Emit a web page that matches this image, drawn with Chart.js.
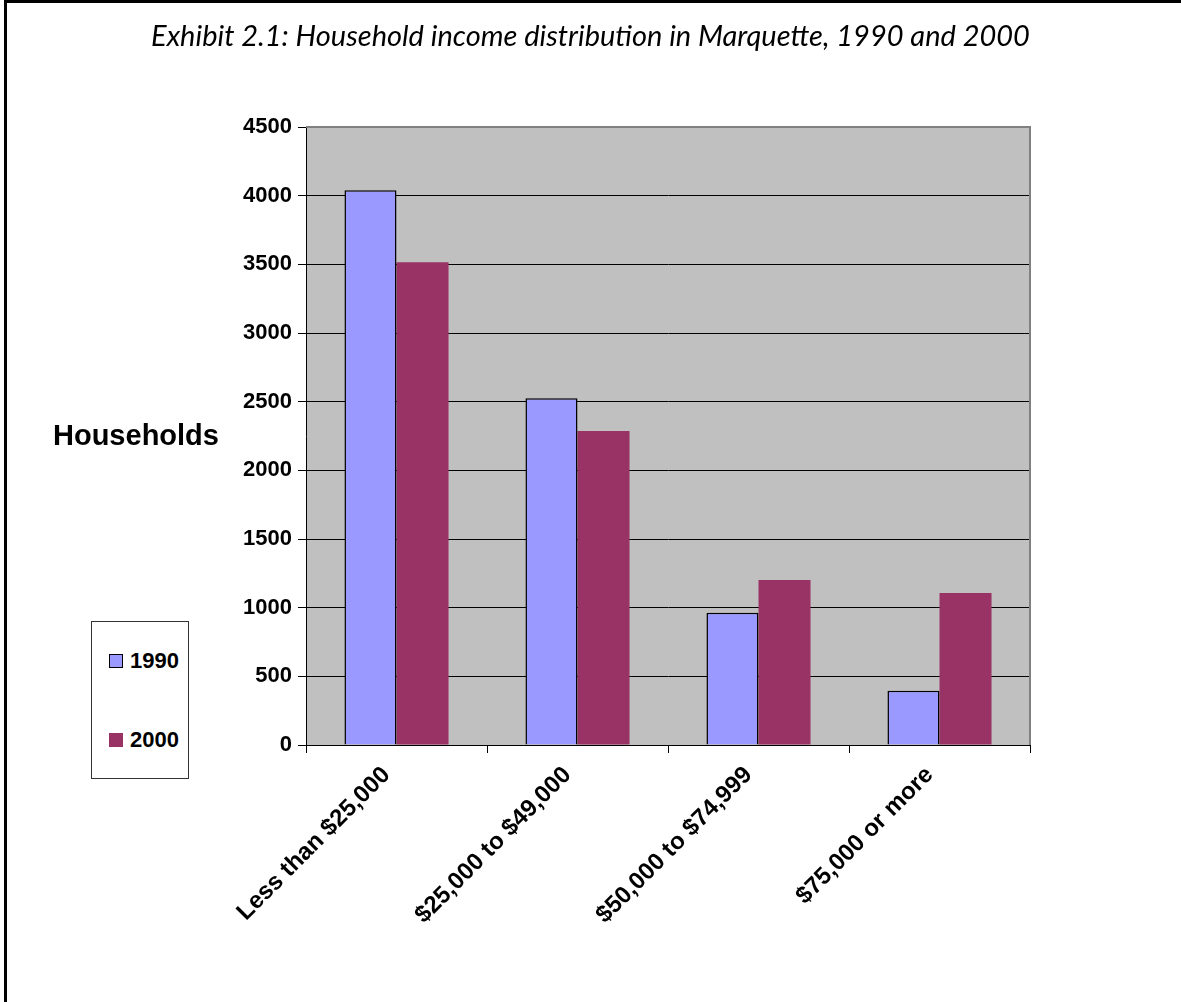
<!DOCTYPE html>
<html>
<head>
<meta charset="utf-8">
<script src="https://cdn.jsdelivr.net/npm/chart.js@4"></script>
<style>
  body { margin: 0; background: #fff; }
  #wrap { position: relative; width: 1181px; height: 1002px; overflow: hidden; }
  #frame { position: absolute; left: 4px; top: 0; width: 1200px; height: 1100px;
    border-left: 3px solid #000; border-top: 3px solid #000; box-sizing: border-box; }
  canvas { position: absolute; left: 0; top: 0; }
  #title { position: absolute; left: 0; width: 1181px; top: 17px; text-align: center;
    font: italic 29px Lato, "Open Sans", sans-serif; color: #000; }
  #ytitle { position: absolute; left: 53px; top: 419px;
    font: bold 29px "Liberation Sans", Arial, sans-serif; color: #000; }
  #legend { position: absolute; left: 91px; top: 621px; width: 98px; height: 158px;
    border: 1px solid #333; box-sizing: border-box; background: #fff; }
  .item { position: absolute; left: 17px; font: bold 22px "Liberation Sans", Arial, sans-serif;
    color: #000; display: flex; align-items: center; }
  .swatch { width: 14px; height: 14px; box-sizing: border-box; margin-right: 7px; }
</style>
</head>
<body>
<div id="wrap">
  <div id="frame"></div>
  <canvas id="incomeChart" width="1181" height="1002"></canvas>
  <div id="title">Exhibit 2.1: Household income distribution in Marquette, 1990 and 2000</div>
  <div id="ytitle">Households</div>
  <div id="legend"></div>
</div>
<script>
const categories = ["Less than $25,000", "$25,000 to $49,000", "$50,000 to $74,999", "$75,000 or more"];
const households1990 = [4040, 2525, 963, 395];
const households2000 = [3515, 2286, 1201, 1107];
const yTicks = [0, 500, 1000, 1500, 2000, 2500, 3000, 3500, 4000, 4500];

document.addEventListener("DOMContentLoaded", () => {
  const font = { family: "'Liberation Sans', Arial, sans-serif", size: 22, weight: "bold" };

  // grey plot background plus the grey frame on top and right
  const plotArea = {
    id: "plotArea",
    beforeDraw(chart) {
      const { ctx, chartArea: a } = chart;
      ctx.save();
      ctx.fillStyle = "#c0c0c0";
      ctx.fillRect(a.left, a.top, a.right - a.left, a.bottom - a.top);
      ctx.restore();
    },
    afterDraw(chart) {
      const { ctx, chartArea: a } = chart;
      ctx.save();
      ctx.strokeStyle = "#808080";
      ctx.lineWidth = 2;
      ctx.beginPath();
      ctx.moveTo(a.left, a.top);
      ctx.lineTo(a.right, a.top);
      ctx.lineTo(a.right, a.bottom);
      ctx.stroke();
      ctx.restore();
    },
  };

  const ctx = document.getElementById("incomeChart").getContext("2d");
  const chart = new Chart(ctx, {
    type: "bar",
    data: {
      labels: categories,
      datasets: [
        {
          label: "1990",
          data: households1990,
          backgroundColor: "#9999ff",
          borderColor: "#000",
          borderWidth: 1.5,
          categoryPercentage: 0.575,
          barPercentage: 1.0,
        },
        {
          label: "2000",
          data: households2000,
          backgroundColor: "#993366",
          borderWidth: 0,
          categoryPercentage: 0.575,
          barPercentage: 1.0,
        },
      ],
    },
    options: {
      responsive: false,
      animation: false,
      layout: { padding: { left: 0, right: 151, top: 127, bottom: 0 } },
      plugins: {
        legend: { display: false },
        tooltip: { enabled: false },
      },
      scales: {
        x: {
          grid: { drawOnChartArea: false, color: "#000", tickLength: 8, offset: true },
          border: { color: "#000", width: 1 },
          ticks: {
            color: "#000",
            font: { ...font, size: 24 },
            maxRotation: 45,
            minRotation: 45,
            autoSkip: false,
            padding: 8,
            labelOffset: -10,
          },
          afterFit: (s) => { s.height = 257; },
        },
        y: {
          min: 0,
          max: 4500,
          afterBuildTicks: (s) => { s.ticks = yTicks.map((v) => ({ value: v })); },
          grid: {
            color: (c) => (c.tick && c.tick.value === 4500 ? "#808080" : "#000"),
            tickColor: "#000",
            tickLength: 8,
          },
          border: { color: "#000", width: 1 },
          ticks: { color: "#000", font, padding: 6, callback: (v) => String(v) },
          afterFit: (s) => { s.width = 306; },
        },
      },
    },
    plugins: [plotArea],
  });

  // legend box built from the datasets
  const legend = document.getElementById("legend");
  const tops = [26, 105];
  chart.data.datasets.forEach((ds, i) => {
    const item = document.createElement("div");
    item.className = "item";
    item.style.top = tops[i] + "px";
    const sw = document.createElement("span");
    sw.className = "swatch";
    sw.style.background = ds.backgroundColor;
    if (ds.borderWidth) sw.style.border = "1.5px solid #000";
    item.appendChild(sw);
    item.appendChild(document.createTextNode(ds.label));
    legend.appendChild(item);
  });
});
</script>
</body>
</html>
